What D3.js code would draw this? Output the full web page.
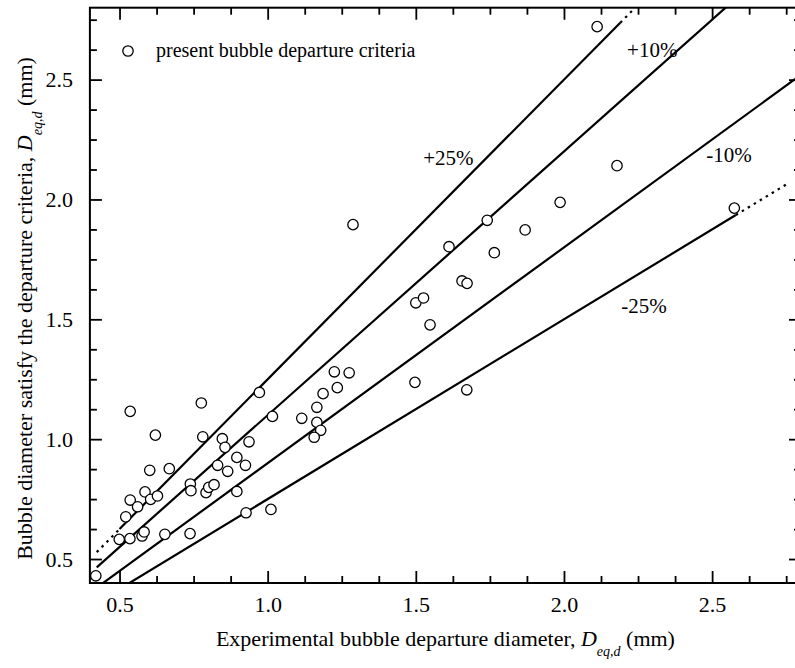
<!DOCTYPE html>
<html>
<head>
<meta charset="utf-8">
<script src="https://cdn.jsdelivr.net/npm/d3@7"></script>
<style>
  body { margin: 0; background: #fff; }
  svg { display: block; }
  svg text { font-family: 'Liberation Serif', 'DejaVu Serif', serif; fill: #000; }
</style>
</head>
<body>
<svg id="chart" width="795" height="668" font-family="Liberation Serif"></svg>
<script>
// Experimental bubble departure diameter (mm)
const expDiameter = [
  0.420, 0.499, 0.535, 0.521, 0.536, 0.536, 0.561, 0.576, 0.583, 0.586,
  0.602, 0.605, 0.621, 0.628, 0.653, 0.668, 0.738, 0.739, 0.741, 0.776,
  0.781, 0.792, 0.801, 0.819, 0.831, 0.847, 0.856, 0.865, 0.896, 0.896,
  0.925, 0.927, 0.937, 0.972, 1.011, 1.016, 1.115, 1.166, 1.166, 1.179,
  1.157, 1.187, 1.235, 1.225, 1.275, 1.288, 1.497, 1.672, 1.500, 1.526,
  1.548, 1.612, 1.656, 1.673, 1.741, 1.765, 1.869, 1.987, 2.112, 2.179,
  2.575
];
// Diameter satisfying the present departure criteria (mm)
const predDiameter = [
  0.430, 0.582, 0.585, 0.676, 0.746, 1.116, 0.718, 0.596, 0.613, 0.780,
  0.870, 0.749, 1.017, 0.763, 0.603, 0.877, 0.606, 0.813, 0.785, 1.151,
  1.010, 0.777, 0.799, 0.810, 0.891, 1.002, 0.966, 0.866, 0.924, 0.782,
  0.891, 0.693, 0.989, 1.195, 0.707, 1.095, 1.087, 1.133, 1.070, 1.037,
  1.008, 1.190, 1.215, 1.281, 1.277, 1.895, 1.237, 1.206, 1.569, 1.589,
  1.477, 1.803, 1.660, 1.650, 1.913, 1.778, 1.873, 1.988, 2.721, 2.141,
  1.964
];

// Deviation bands y = k * x
const bandRatio = [1.25, 1.10, 0.90, 0.75];
const bandLabel = ["+25%", "+10%", "-10%", "-25%"];
// x-extent of the solid part of each band line
const bandSolid = [[0.50, 2.19], [0.423, 2.60], [0.40, 2.85], [0.40, 2.58]];
// x-extents of the dotted extensions of each band line
const bandDotted = [[[0.423, 0.50], [2.19, 2.24]], [], [], [[2.58, 2.76]]];

const xMajor = [0.5, 1.0, 1.5, 2.0, 2.5];
const yMajor = [0.5, 1.0, 1.5, 2.0, 2.5];
const xMinor = [0.625, 0.75, 0.875, 1.125, 1.25, 1.375, 1.625, 1.75, 1.875, 2.125, 2.25, 2.375, 2.625, 2.75];
const yMinor = [0.625, 0.75, 0.875, 1.125, 1.25, 1.375, 1.625, 1.75, 1.875, 2.125, 2.25, 2.375, 2.625, 2.75];

const FONT = "'Liberation Serif', 'DejaVu Serif', serif";
const svg = d3.select("#chart");
const L = 89.9, R = 801, T = 7.7, B = 583;

const x = d3.scaleLinear().domain([0.4, 2.8]).range([L, R]);
const y = d3.scaleLinear().domain([0.4, 2.8]).range([B, T]);

svg.append("defs").append("clipPath").attr("id", "plotClip")
  .append("rect").attr("x", L).attr("y", T).attr("width", R - L).attr("height", B - T);

const plot = svg.append("g").attr("clip-path", "url(#plotClip)");

// band lines
const seg = (k, x0, x1) => d3.line()([[x(x0), y(k * x0)], [x(x1), y(k * x1)]]);
bandRatio.forEach((k, i) => {
  plot.append("path")
    .attr("d", seg(k, bandSolid[i][0], bandSolid[i][1]))
    .attr("stroke", "#000").attr("stroke-width", 2.2).attr("fill", "none");
  bandDotted[i].forEach(([a, b]) => {
    plot.append("path")
      .attr("d", seg(k, a, b))
      .attr("stroke", "#000").attr("stroke-width", 2.2).attr("fill", "none")
      .attr("stroke-dasharray", "2.5,4.5");
  });
});

// data points
plot.selectAll("circle.pt")
  .data(expDiameter.map((d, i) => [d, predDiameter[i]]))
  .join("circle")
  .attr("class", "pt")
  .attr("cx", d => x(d[0]))
  .attr("cy", d => y(d[1]))
  .attr("r", 5.2)
  .attr("fill", "#fff")
  .attr("stroke", "#000")
  .attr("stroke-width", 1.3);

// band labels (anchored in data coordinates)
const labelAt = { "+25%": [1.525, 2.144], "+10%": [2.213, 2.596], "-10%": [2.480, 2.156], "-25%": [2.193, 1.526] };
bandLabel.forEach(t => {
  svg.append("text")
    .attr("x", x(labelAt[t][0])).attr("y", y(labelAt[t][1]))
    .attr("font-family", FONT).attr("font-size", 21)
    .text(t);
});

// axes with inward ticks on all four sides
function styleAxis(g) {
  g.attr("font-family", FONT).attr("font-size", 22);
  g.select(".domain").remove();
  g.selectAll(".tick line").attr("stroke", "#000").attr("stroke-width", 1.8);
  g.selectAll("text").attr("fill", "#000");
}
const fmt = d3.format(".1f");

svg.append("g").attr("transform", `translate(0,${B})`)
  .call(d3.axisBottom(x).tickValues(xMajor).tickSize(-12).tickPadding(13).tickFormat(fmt)).call(styleAxis);
svg.append("g").attr("transform", `translate(0,${B})`)
  .call(d3.axisBottom(x).tickValues(xMinor).tickSize(-7).tickFormat("")).call(styleAxis);
svg.append("g").attr("transform", `translate(0,${T})`)
  .call(d3.axisTop(x).tickValues(xMajor).tickSize(-12).tickFormat("")).call(styleAxis);
svg.append("g").attr("transform", `translate(0,${T})`)
  .call(d3.axisTop(x).tickValues(xMinor).tickSize(-7).tickFormat("")).call(styleAxis);

svg.append("g").attr("transform", `translate(${L},0)`)
  .call(d3.axisLeft(y).tickValues(yMajor).tickSize(-12).tickPadding(17).tickFormat(fmt)).call(styleAxis);
svg.append("g").attr("transform", `translate(${L},0)`)
  .call(d3.axisLeft(y).tickValues(yMinor).tickSize(-7).tickFormat("")).call(styleAxis);
svg.append("g").attr("transform", `translate(${R},0)`)
  .call(d3.axisRight(y).tickValues(yMajor).tickSize(-12).tickFormat("")).call(styleAxis);
svg.append("g").attr("transform", `translate(${R},0)`)
  .call(d3.axisRight(y).tickValues(yMinor).tickSize(-7).tickFormat("")).call(styleAxis);

// frame
svg.append("rect")
  .attr("x", L).attr("y", T).attr("width", R - L).attr("height", B - T)
  .attr("fill", "none").attr("stroke", "#000").attr("stroke-width", 2);

// legend
svg.append("circle").attr("cx", 128).attr("cy", 51).attr("r", 5.2)
  .attr("fill", "#fff").attr("stroke", "#000").attr("stroke-width", 1.3);
svg.append("text").attr("x", 156).attr("y", 57)
  .attr("font-family", FONT).attr("font-size", 20)
  .text("present bubble departure criteria");

// axis titles
const xt = svg.append("text").attr("x", (L + R) / 2).attr("y", 646)
  .attr("font-family", FONT).attr("font-size", 22)
  .attr("text-anchor", "middle");
xt.append("tspan").text("Experimental bubble departure diameter, ");
xt.append("tspan").attr("font-style", "italic").text("D");
xt.append("tspan").attr("font-style", "italic").attr("font-size", 14).attr("dy", 10).text("eq,d");
xt.append("tspan").attr("dy", -10).text(" (mm)");

const yt = svg.append("text").attr("transform", "translate(32,308.5) rotate(-90)")
  .attr("font-family", FONT).attr("font-size", 22).attr("text-anchor", "middle");
yt.append("tspan").text("Bubble diameter satisfy the departure criteria, ");
yt.append("tspan").attr("font-style", "italic").text("D");
yt.append("tspan").attr("font-style", "italic").attr("font-size", 14).attr("dy", 10).text("eq,d");
yt.append("tspan").attr("dy", -10).text(" (mm)");
</script>
</body>
</html>
